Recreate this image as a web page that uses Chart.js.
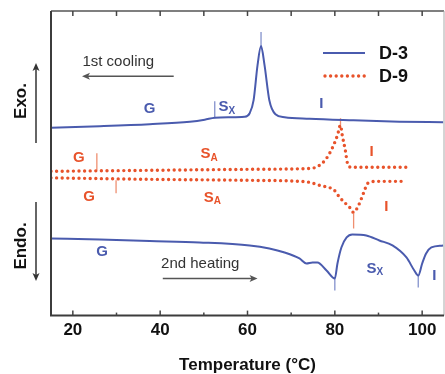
<!DOCTYPE html>
<html>
<head>
<meta charset="utf-8">
<script src="https://cdn.jsdelivr.net/npm/chart.js@4/dist/chart.umd.min.js"></script>
<style>
html,body{margin:0;padding:0;background:#fff;}
#wrap{width:445px;height:374px;position:relative;}
</style>
</head>
<body>
<div id="wrap"><canvas id="c" width="445" height="374"></canvas></div>
<script>
// ---- data (temperature in °C, heat flow in arbitrary units) ----
const d3CoolT = [15,26.2,37.6,46.8,50.2,52.5,55.9,59.3,60.5,61.4,62.3,63.1,63.9,65.0,66.4,68.5,74.2,83.3,94.8,104.8];
const d3CoolY = [187.5,189,191,193.5,195.5,197.5,198,198.5,202,215,250,269,250,215,201,198,196.5,195,193.5,193];

const d9CoolT = [15,37.6,60.5,71.9,75.3,76.5,78.1,79.5,80.6,81.3,81.7,82.4,82.9,83.8,97.1];
const d9CoolY = [144,145,146,146.5,147.5,150,157,168,180,190,180,165,152,148,148];

const d9HeatT = [15,37.6,60.5,71.9,74.2,76.5,79.9,81.1,82.2,83.4,84.3,85.2,86.1,86.8,87.5,89.5,95.9];
const d9HeatY = [137.5,136,135,134,133,130,125,118,113,108,103,108,117,125,132,134,134];

const d3HeatT = [15,26.2,37.6,49,60.5,65,68.5,71.9,73.5,74.9,76.0,78.1,80.0,80.6,81.5,82.7,84.0,87.2,90.2,93.2,96.4,98.2,99.1,100.0,100.9,102.1,104.8];
const d3HeatY = [77,76,74.5,73,70,67,63,57,52,53,53,45,37,52,68,78,81,80,75,70,58,45,40,52,62,68,70];

// transition marker ticks: [temperature, from, to]
const blueMarks = [[52.5,214,197],[63.1,283,269],[80.0,37,25],[99.1,40,28]];
const redMarks  = [[25.5,162,145],[81.3,197,190],[29.9,135,122],[84.3,102,87]];

// phase labels: [main, subscript, temperature, value, series]
const phaseLabels = [
  ['G','',37.6,206,'D-3'],['S','X',54.5,208,'D-3'],['I','',76.9,211,'D-3'],
  ['G','',21.4,157,'D-9'],['S','A',50.4,161,'D-9'],['I','',88.4,163,'D-9'],
  ['G','',23.7,119,'D-9'],['S','A',51.1,118,'D-9'],['I','',91.8,109,'D-9'],
  ['G','',26.7,64,'D-3'],['S','X',88.4,47,'D-3'],['I','',102.8,40,'D-3']
];
const seriesNames = ['D-3','D-9'];
const xTickValues = [20,30,40,50,60,70,80,90,100];
const xTickLabels = [20,40,60,80,100];

const BLUE = '#4a5bae';
const RED = '#e8532b';
const BLUE_MARK = '#8391cc';
const RED_MARK = '#ef8f70';

const pts = (t, y) => t.map((v, i) => ({x: v, y: y[i]}));

const datasets = [
  {label: seriesNames[0], data: pts(d3CoolT, d3CoolY), borderColor: BLUE, borderWidth: 2, cubicInterpolationMode: 'monotone'},
  {label: seriesNames[0], data: pts(d3HeatT, d3HeatY), borderColor: BLUE, borderWidth: 2, cubicInterpolationMode: 'monotone'},
  {label: seriesNames[1], data: pts(d9CoolT, d9CoolY), borderColor: RED, borderWidth: 3.4, borderDash: [0, 5.6], borderCapStyle: 'round', cubicInterpolationMode: 'monotone'},
  {label: seriesNames[1], data: pts(d9HeatT, d9HeatY), borderColor: RED, borderWidth: 3.4, borderDash: [0, 5.6], borderCapStyle: 'round', cubicInterpolationMode: 'monotone'}
];
blueMarks.forEach(m => datasets.push({label: 'mark', data: [{x: m[0], y: m[1]}, {x: m[0], y: m[2]}], borderColor: BLUE_MARK, borderWidth: 1.3}));
redMarks.forEach(m => datasets.push({label: 'mark', data: [{x: m[0], y: m[1]}, {x: m[0], y: m[2]}], borderColor: RED_MARK, borderWidth: 1.3}));

function arrow(ctx, x1, y1, x2, y2, color) {
  ctx.save();
  ctx.strokeStyle = color; ctx.fillStyle = color; ctx.lineWidth = 1.5;
  const a = Math.atan2(y2 - y1, x2 - x1);
  ctx.beginPath();
  ctx.moveTo(x1, y1);
  ctx.lineTo(x2 - 5 * Math.cos(a), y2 - 5 * Math.sin(a));
  ctx.stroke();
  ctx.beginPath();
  ctx.moveTo(x2, y2);
  ctx.lineTo(x2 - 8 * Math.cos(a) + 3.5 * Math.sin(a), y2 - 8 * Math.sin(a) - 3.5 * Math.cos(a));
  ctx.lineTo(x2 - 6 * Math.cos(a), y2 - 6 * Math.sin(a));
  ctx.lineTo(x2 - 8 * Math.cos(a) - 3.5 * Math.sin(a), y2 - 8 * Math.sin(a) + 3.5 * Math.cos(a));
  ctx.closePath();
  ctx.fill();
  ctx.restore();
}

const decor = {
  id: 'decor',
  afterDatasetsDraw(chart) {
    const ctx = chart.ctx;
    const a = chart.chartArea;
    const xs = chart.scales.x, ys = chart.scales.y;
    ctx.save();
    // frame
    ctx.strokeStyle = '#555'; ctx.lineWidth = 1.5;
    ctx.beginPath(); ctx.moveTo(a.left, a.top); ctx.lineTo(a.right, a.top); ctx.stroke();
    ctx.strokeStyle = '#aaa'; ctx.lineWidth = 1;
    ctx.beginPath(); ctx.moveTo(a.right, a.top); ctx.lineTo(a.right, a.bottom); ctx.stroke();
    ctx.strokeStyle = '#3c3c3c'; ctx.lineWidth = 2;
    ctx.beginPath(); ctx.moveTo(a.left, a.top); ctx.lineTo(a.left, a.bottom); ctx.lineTo(a.right, a.bottom); ctx.stroke();
    // inward ticks
    ctx.lineWidth = 1.5; ctx.strokeStyle = '#444';
    xs.ticks.forEach(t => {
      const px = xs.getPixelForValue(t.value);
      const major = xTickLabels.includes(t.value);
      ctx.beginPath(); ctx.moveTo(px, a.bottom); ctx.lineTo(px, a.bottom - (major ? 5 : 3)); ctx.stroke();
      ctx.beginPath(); ctx.moveTo(px, a.top); ctx.lineTo(px, a.top + 5); ctx.stroke();
    });
    // phase labels
    phaseLabels.forEach(l => {
      const px = xs.getPixelForValue(l[2]), py = ys.getPixelForValue(l[3]);
      const col = l[4] === seriesNames[0] ? BLUE : RED;
      ctx.fillStyle = col;
      ctx.textBaseline = 'middle';
      ctx.font = 'bold 15px "Liberation Sans", Arial, sans-serif';
      if (l[1]) {
        ctx.textAlign = 'center';
        ctx.fillText(l[0], px, py);
        ctx.font = 'bold 10px "Liberation Sans", Arial, sans-serif';
        ctx.textAlign = 'left';
        ctx.fillText(l[1], px + 5, py + 4);
      } else {
        ctx.textAlign = 'center';
        ctx.fillText(l[0], px, py);
      }
    });
    // process annotations
    ctx.fillStyle = '#333';
    ctx.font = '15px "Liberation Sans", Arial, sans-serif';
    ctx.textAlign = 'left'; ctx.textBaseline = 'middle';
    ctx.fillText('1st cooling', xs.getPixelForValue(22.2), ys.getPixelForValue(253));
    arrow(ctx, xs.getPixelForValue(43.1), ys.getPixelForValue(239), xs.getPixelForValue(22.1), ys.getPixelForValue(239), '#555');
    ctx.fillStyle = '#333';
    ctx.fillText('2nd heating', xs.getPixelForValue(40.2), ys.getPixelForValue(52));
    arrow(ctx, xs.getPixelForValue(40.6), ys.getPixelForValue(37), xs.getPixelForValue(62.3), ys.getPixelForValue(37), '#555');
    // legend
    ctx.lineWidth = 2; ctx.strokeStyle = BLUE;
    ctx.beginPath(); ctx.moveTo(323, 53); ctx.lineTo(365, 53); ctx.stroke();
    ctx.lineWidth = 3.4; ctx.strokeStyle = RED; ctx.setLineDash([0, 5.6]); ctx.lineCap = 'round';
    ctx.beginPath(); ctx.moveTo(325, 76); ctx.lineTo(365, 76); ctx.stroke();
    ctx.setLineDash([]); ctx.lineCap = 'butt';
    ctx.fillStyle = '#111';
    ctx.font = 'bold 18px "Liberation Sans", Arial, sans-serif';
    ctx.fillText(seriesNames[0], 379, 54);
    ctx.fillText(seriesNames[1], 379, 77);
    // Exo / Endo
    ctx.save();
    ctx.translate(21, 101); ctx.rotate(-Math.PI / 2);
    ctx.textAlign = 'center'; ctx.fillStyle = '#111';
    ctx.font = 'bold 17px "Liberation Sans", Arial, sans-serif';
    ctx.fillText('Exo.', 0, 0);
    ctx.restore();
    ctx.save();
    ctx.translate(21, 246); ctx.rotate(-Math.PI / 2);
    ctx.textAlign = 'center'; ctx.fillStyle = '#111';
    ctx.font = 'bold 17px "Liberation Sans", Arial, sans-serif';
    ctx.fillText('Endo.', 0, 0);
    ctx.restore();
    arrow(ctx, 36, 143, 36, 63, '#333');
    arrow(ctx, 36, 202, 36, 281, '#333');
    ctx.restore();
  }
};

new Chart(document.getElementById('c'), {
  type: 'line',
  data: {datasets},
  plugins: [decor],
  options: {
    responsive: false,
    animation: false,
    devicePixelRatio: 1,
    layout: {padding: {left: 51, right: 1, top: 11, bottom: 0}},
    elements: {point: {radius: 0}, line: {fill: false}},
    plugins: {legend: {display: false}, tooltip: {enabled: false}},
    scales: {
      x: {
        type: 'linear', min: 15, max: 105,
        afterBuildTicks: scale => { scale.ticks = xTickValues.map(v => ({value: v})); },
        grid: {display: false, drawTicks: false},
        border: {display: false},
        ticks: {
          padding: 5, autoSkip: false, maxRotation: 0,
          color: '#111',
          font: {family: '"Liberation Sans", Arial, sans-serif', size: 17, weight: 'bold'},
          callback: v => xTickLabels.includes(v) ? String(v) : ''
        },
        title: {
          display: true, text: 'Temperature (°C)', color: '#111',
          font: {family: '"Liberation Sans", Arial, sans-serif', size: 17, weight: 'bold', lineHeight: 1},
          padding: {top: 11, bottom: 0}
        }
      },
      y: {type: 'linear', min: 0, max: 304, display: false}
    }
  }
});
</script>
</body>
</html>
